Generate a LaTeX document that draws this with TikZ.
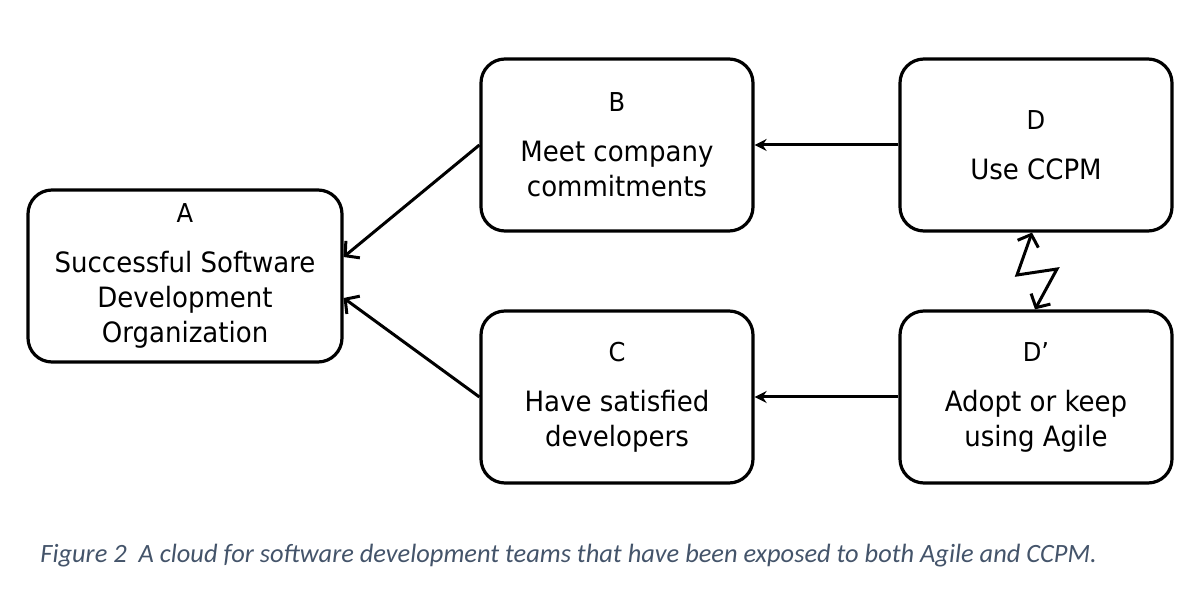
\documentclass[tikz,border=0pt]{standalone}
\usepackage{fontspec}
\setmainfont{DejaVu Sans}[FakeStretch=0.93]
\newfontfamily\captionfont{Carlito}
\usepackage{tikz}
\usetikzlibrary{arrows.meta}
\definecolor{captionblue}{HTML}{44546A}
\tikzstyle{cloudbox} = [rectangle, rounded corners=12pt, minimum width=136pt, minimum height=86pt, text centered, align=center, draw=black, line width=1.6pt, fill=white, font=\fontsize{14}{17.5}\selectfont]
\tikzstyle{arrow} = [line width=1.5pt,->,>={Straight Barb[length=5pt,width=11pt,line width=1.5pt]}]
\tikzstyle{smallarrow} = [line width=1.5pt,->,>={Stealth[length=6pt,width=6pt]}]
\newcommand{\cloudtext}[2]{{\fontsize{13}{17.5}\selectfont #1}\\[7.5pt]#2}

\begin{document}
\begin{tikzpicture}[x=0.5pt,y=-0.5pt,node distance=126pt]
\useasboundingbox (0,0) rectangle (1200,598);

\node (A) [cloudbox, minimum width=157pt] at (185,276) {\cloudtext{A}{Successful Software\\Development\\Organization}};

\node (B) [cloudbox] at (617,145) {\cloudtext{B}{Meet company\\commitments}};

\node (C) [cloudbox, below of=B] {\cloudtext{C}{Have satisfied\\developers}};

\node (D) [cloudbox, right of=B, xshift=83.5pt] {\cloudtext{D}{Use CCPM}};

\node (Dp) [cloudbox, below of=D] {\cloudtext{D’}{Adopt or keep\\using Agile}};

\node (caption) [anchor=base west, text=captionblue, font=\captionfont\itshape\fontsize{13.2}{15}\selectfont, inner sep=0pt] at (40,563) {Figure 2\ \ A cloud for software development teams that have been exposed to both Agile and CCPM.};

\draw [arrow] (B.west) -- ([yshift=9.5pt]A.east);

\draw [arrow] (C.west) -- ([yshift=-11pt]A.east);

\draw [smallarrow] (D.west) -- (B.east);

\draw [smallarrow] (Dp.west) -- (C.east);

\draw [arrow, <->, line join=miter] ([xshift=-2pt]D.south) -- (1017,275) -- (1057,269) -- ([xshift=-0.5pt]Dp.north);

\end{tikzpicture}
\end{document}
